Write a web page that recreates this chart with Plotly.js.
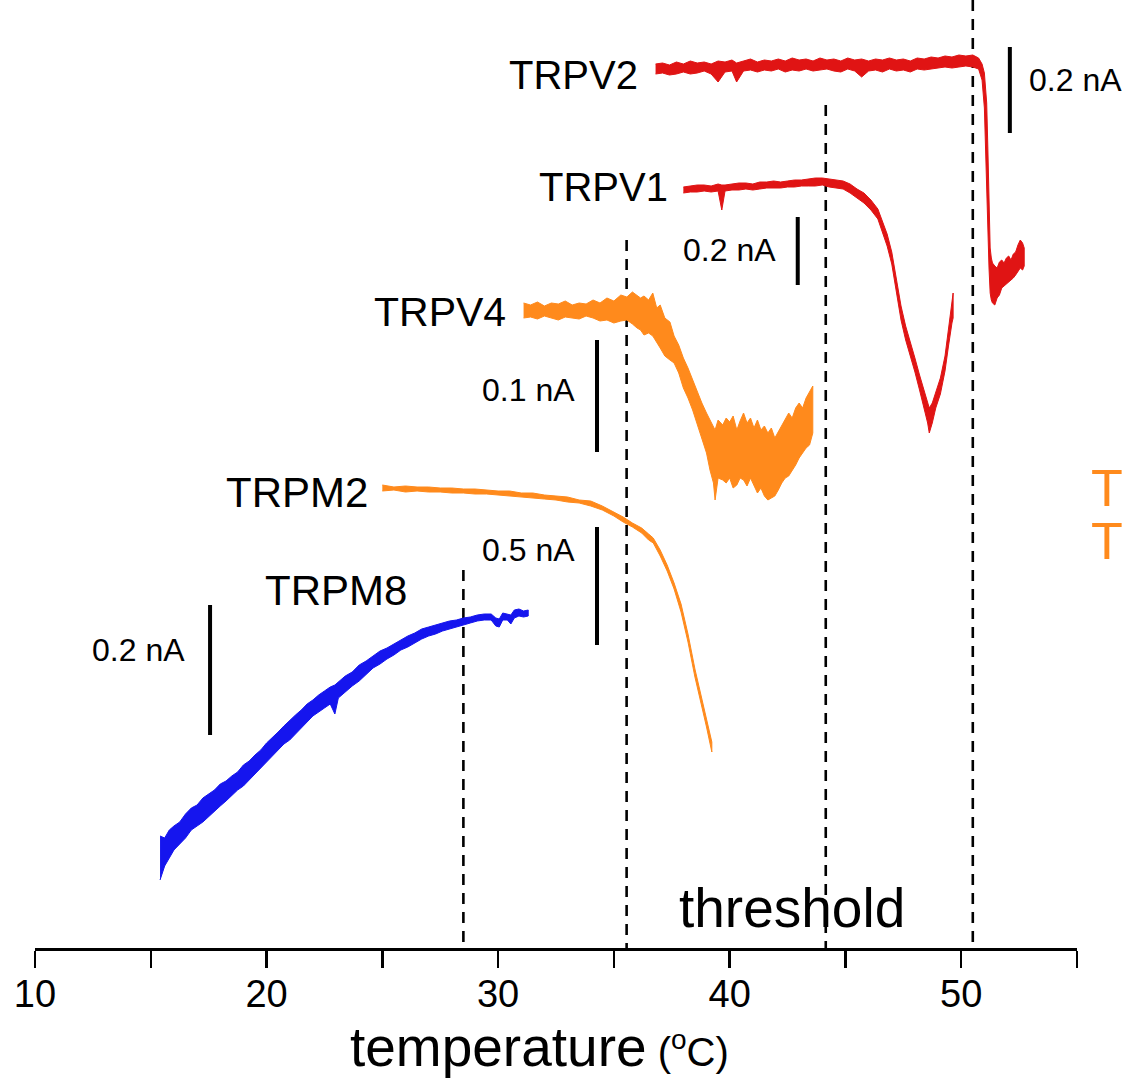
<!DOCTYPE html>
<html>
<head>
<meta charset="utf-8">
<script src="https://cdn.plot.ly/plotly-3.0.1.min.js"></script>
<style>html,body{margin:0;padding:0;background:#fff;}#chart{width:1125px;height:1078px;}</style>
</head>
<body>
<div id="chart"></div>
<script>
// ---- axis ----
const majorTicks = [10, 20, 30, 40, 50];
const tickLabels = ['10', '20', '30', '40', '50'];
const minorTicks = [15, 25, 35, 45, 55];

// ---- traces: temperature (°C) and upper / lower edge of the noisy current trace (display offset units) ----
const v2X = [36.8,37.1,37.4,37.7,38.0,38.3,38.6,38.9,39.2,39.5,39.8,40.1,40.3,40.6,40.9,41.2,41.5,41.8,42.1,42.4,42.7,43.0,43.3,43.6,43.9,44.2,44.5,44.8,45.1,45.4,45.7,46.0,46.3,46.6,46.9,47.2,47.5,47.8,48.1,48.4,48.7,49.0,49.3,49.6,49.9,50.2,50.5,50.75,50.9,51.0,51.1,51.15,51.2,51.25,51.3,51.35,51.45,51.55,51.65,51.75,51.85,51.95,52.05,52.15,52.25,52.35,52.45,52.55,52.65,52.72];
const v2Hi = [884,885,883,886,884,887,885,886,884,887,886,888,885,887,889,886,888,887,889,887,890,888,889,887,890,888,889,887,890,888,889,887,889,888,890,888,889,887,890,889,891,890,892,891,893,892,893,890,884,875,845,800,740,700,690,685,682,680,686,688,685,690,692,688,694,696,703,708,705,700];
const v2Lo = [874,875,873,874,876,874,875,877,874,866,876,877,866,877,878,876,878,877,879,876,878,877,879,877,878,879,877,876,879,877,871,877,878,876,879,877,878,876,879,878,879,880,881,880,881,882,881,879,868,840,760,720,680,655,648,645,643,650,653,660,662,664,666,668,670,673,676,680,678,682];

const v1X = [38.0,38.3,38.6,38.9,39.2,39.5,39.66,39.8,40.1,40.4,40.7,41.0,41.3,41.6,41.9,42.2,42.5,42.8,43.1,43.4,43.7,44.0,44.3,44.6,44.9,45.2,45.5,45.8,46.1,46.4,46.6,46.8,47.0,47.2,47.4,47.6,47.8,48.0,48.2,48.4,48.55,48.62,48.75,48.9,49.1,49.3,49.45,49.6,49.65];
const v1Hi = [761,762,763,763,762,764,763,763,764,765,765,764,766,766,767,766,767,768,768,769,770,770,769,768,767,764,759,755,748,739,727,714,696,669,642,622,607,590,573,558,546,540,545,556,570,592,618,645,655];
const v1Lo = [755,756,756,757,756,757,738,757,758,758,759,758,759,760,760,760,761,761,762,762,762,763,761,760,759,755,750,745,738,729,716,702,684,656,628,608,593,576,558,540,525,515,525,540,554,577,602,625,630];

const v4X = [31.1,31.4,31.7,32.0,32.3,32.6,32.9,33.2,33.5,33.8,34.1,34.4,34.7,35.0,35.3,35.56,35.8,36.0,36.15,36.3,36.5,36.68,36.85,37.0,37.2,37.42,37.6,37.8,38.0,38.2,38.4,38.6,38.8,39.0,39.15,39.3,39.37,39.5,39.7,39.85,40.0,40.15,40.31,40.45,40.6,40.75,40.9,41.05,41.2,41.35,41.5,41.65,41.8,41.95,42.1,42.25,42.4,42.55,42.7,42.85,43.0,43.15,43.3,43.45,43.59];
const v4Hi = [645,643,646,642,645,644,647,643,645,644,648,645,650,647,653,651,656,653,650,652,648,655,640,643,630,626,612,603,590,580,568,558,545,535,528,520,518,528,523,530,526,532,518,527,535,525,530,520,528,518,522,515,520,510,516,522,528,535,530,540,545,540,550,556,562];
const v4Lo = [630,631,629,632,630,628,631,630,629,632,630,627,628,625,627,628,624,620,618,613,615,612,606,600,592,588,585,575,560,550,538,525,510,495,478,465,448,470,468,465,470,460,463,470,468,462,470,463,455,460,452,448,450,452,458,465,470,472,478,483,490,495,500,503,515];

const m2X = [25.0,25.5,26.0,26.5,27.0,27.5,28.0,28.5,29.0,29.5,30.0,30.5,31.0,31.5,32.0,32.5,33.0,33.5,34.0,34.5,35.0,35.4,35.8,36.2,36.5,36.7,37.0,37.3,37.6,37.9,38.2,38.5,38.8,39.0,39.15,39.23];
const m2Hi = [463,461,462,461,461,460,460,459,459,458,457,457,455,455,453,452,451,448,447,442,436,431,425,420,414,410,398,383,365,344,314,279,249,229,215,206];
const m2Lo = [457,458,456,457,456,456,455,455,454,454,453,452,451,450,449,448,446,445,442,438,432,426,421,415,408,405,392,377,359,336,306,271,241,221,206,196];

const m8X = [15.4,15.6,15.8,16.0,16.25,16.5,16.75,17.0,17.25,17.5,17.75,18.0,18.25,18.5,18.75,19.0,19.25,19.5,19.75,20.0,20.25,20.5,20.75,21.0,21.25,21.5,21.75,22.0,22.25,22.5,22.75,22.95,23.1,23.4,23.7,24.0,24.3,24.6,24.9,25.2,25.5,25.8,26.1,26.4,26.7,27.0,27.3,27.6,27.9,28.2,28.5,28.8,29.1,29.4,29.7,29.9,30.05,30.2,30.4,30.55,30.7,30.9,31.1,31.3];
const m8Hi = [112,110,118,122,126,134,140,143,150,154,158,164,167,172,176,183,187,193,198,205,210,216,222,228,233,238,244,248,253,257,261,263,266,272,276,283,287,292,297,300,304,308,312,315,319,321,323,325,327,328,330,331,333,334,334,330,329,335,334,333,338,339,337,338];
const m8Lo = [68,82,90,98,104,110,118,122,126,132,137,142,147,152,158,162,168,174,180,185,192,198,204,208,215,220,226,232,236,240,244,234,250,256,262,267,273,280,284,289,293,298,301,305,309,312,314,317,319,321,323,325,327,328,328,322,321,328,328,324,330,332,331,332];

// ---- channel names ----
const channelNames = ['TRPV2', 'TRPV1', 'TRPV4', 'TRPM2', 'TRPM8'];

// ---- activation thresholds (°C) ----
const thresholdTemps = [28.5, 35.55, 44.15, 50.5];
const thresholdTops = [378, 708, 843, 948];

// ---- scale bars ----
const scaleBarX = [52.1, 42.94, 34.27, 34.27, 17.56];
const scaleBarTop = [901, 731, 608, 421, 343];
const scaleBarBottom = [815, 663, 496, 303, 213];
const scaleBarLabels = ['0.2 nA', '0.2 nA', '0.1 nA', '0.5 nA', '0.2 nA'];

// ---- styling (not data) ----
const RED = '#e01414', ORANGE = '#ff8a1c', BLUE = '#1515ee';
const FONT = 'Liberation Sans, Arial, Helvetica, sans-serif';

function band(x, hi, lo, color) {
  return {
    x: x.concat(x.slice().reverse()),
    y: hi.concat(lo.slice().reverse()),
    type: 'scatter', mode: 'lines', fill: 'toself',
    fillcolor: color, line: {color: color, width: 1},
    hoverinfo: 'skip', showlegend: false
  };
}

const data = [];
thresholdTemps.forEach((t, i) => {
  data.push({x: [t, t], y: [thresholdTops[i], 0], type: 'scatter', mode: 'lines',
    line: {color: '#000', width: 2.6, dash: '11px,8px'}, hoverinfo: 'skip', showlegend: false});
});
data.push(band(v2X, v2Hi, v2Lo, RED));
data.push(band(v1X, v1Hi, v1Lo, RED));
data.push(band(v4X, v4Hi, v4Lo, ORANGE));
data.push(band(m2X, m2Hi, m2Lo, ORANGE));
data.push(band(m8X, m8Hi, m8Lo, BLUE));
scaleBarX.forEach((x, i) => {
  data.push({x: [x, x], y: [scaleBarTop[i], scaleBarBottom[i]], type: 'scatter', mode: 'lines',
    line: {color: '#000', width: 4}, hoverinfo: 'skip', showlegend: false});
});

const ann = [];
// channel names (positions in data units)
const namePos = [[36.12, 873, 'right', 40], [37.42, 761, 'right', 40], [30.42, 636, 'right', 41], [24.46, 456, 'right', 42], [23.0, 358, 'center', 42]];
channelNames.forEach((n, i) => {
  ann.push({x: namePos[i][0], y: namePos[i][1], xref: 'x', yref: 'y', text: n, showarrow: false,
    xanchor: namePos[i][2], yanchor: 'middle', font: {family: FONT, size: namePos[i][3], color: '#000'}});
});
// scale bar labels
const sbPos = [[52.83, 868, 'left'], [42.08, 698, 'right'], [33.4, 558, 'right'], [33.4, 398, 'right'], [16.56, 298, 'right']];
scaleBarLabels.forEach((t, i) => {
  ann.push({x: sbPos[i][0], y: sbPos[i][1], xref: 'x', yref: 'y', text: t, showarrow: false,
    xanchor: sbPos[i][2], yanchor: 'middle', font: {family: FONT, size: 32, color: '#000'}});
});
ann.push({x: 42.69, y: 40, xref: 'x', yref: 'y', text: 'threshold', showarrow: false,
  xanchor: 'center', yanchor: 'middle', font: {family: FONT, size: 55, color: '#000'}});
ann.push({x: 1.0115, y: 460, xref: 'paper', yref: 'y', text: 'T', showarrow: false,
  xanchor: 'left', yanchor: 'middle', font: {family: FONT, size: 52, color: ORANGE}});
ann.push({x: 1.0115, y: 407, xref: 'paper', yref: 'y', text: 'T', showarrow: false,
  xanchor: 'left', yanchor: 'middle', font: {family: FONT, size: 52, color: ORANGE}});
ann.push({x: 31.8, y: -0.1045, xref: 'x', yref: 'paper', showarrow: false,
  text: 'temperature<span style="font-size:40px"> (<sup>o</sup>C)</span>',
  xanchor: 'center', yanchor: 'middle', font: {family: FONT, size: 55, color: '#000'}});

const layout = {
  width: 1125, height: 1078,
  margin: {l: 35, r: 48, t: 0, b: 130, pad: 0},
  paper_bgcolor: '#fff', plot_bgcolor: '#fff',
  showlegend: false, hovermode: false,
  xaxis: {
    range: [10, 55], tickmode: 'array', tickvals: majorTicks, ticktext: tickLabels,
    showline: true, linecolor: '#000', linewidth: 2.5,
    ticks: 'outside', ticklen: 17, tickwidth: 2.5, tickcolor: '#000',
    minor: {tickmode: 'array', tickvals: minorTicks, ticks: 'outside', ticklen: 17, tickwidth: 2.5, tickcolor: '#000', showgrid: false},
    ticklabelstandoff: -6,
    showgrid: false, zeroline: false,
    tickfont: {family: FONT, size: 38, color: '#000'}, fixedrange: true
  },
  yaxis: {range: [0, 948], visible: false, showgrid: false, zeroline: false, fixedrange: true},
  annotations: ann
};

Plotly.newPlot('chart', data, layout, {displayModeBar: false, staticPlot: true});
</script>
</body>
</html>
